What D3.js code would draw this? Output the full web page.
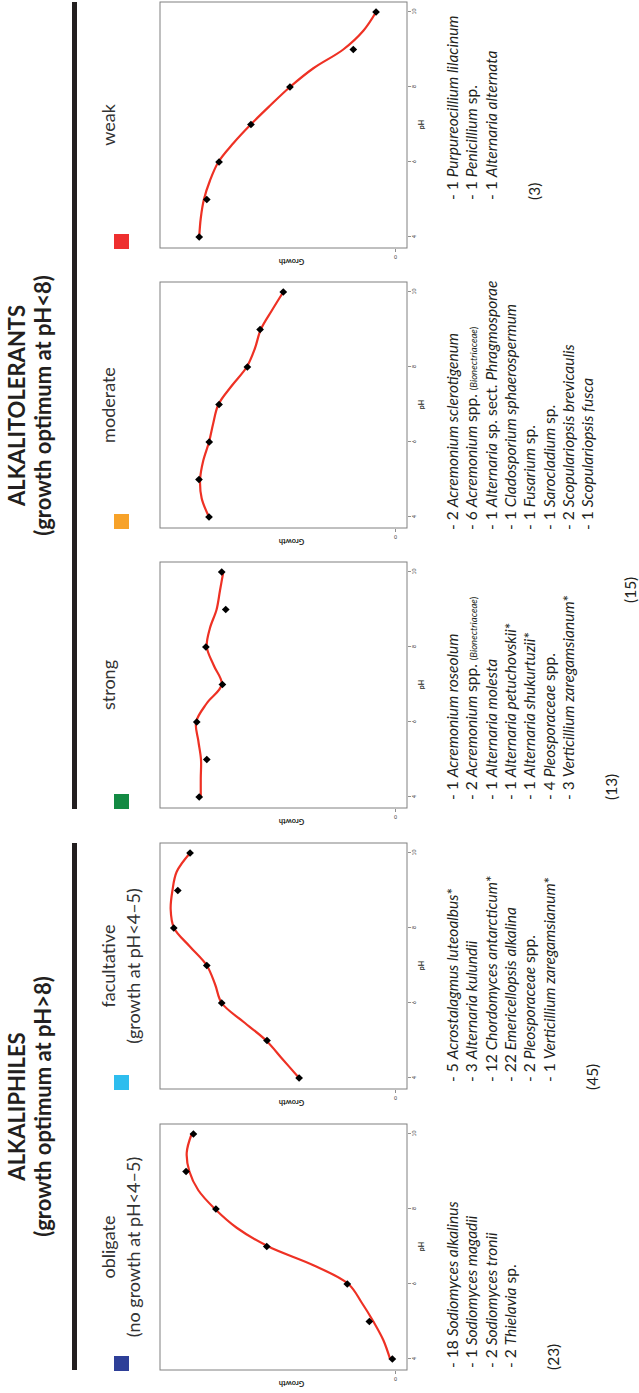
<!DOCTYPE html>
<html><head><meta charset="utf-8">
<script src="https://cdn.jsdelivr.net/npm/d3@7"></script>
<style>
body{margin:0;background:#fff}
svg{display:block}
text{font-family:Lato,"Open Sans",sans-serif;fill:#231f20}
</style>
</head><body>
<svg id="c" width="639" height="1393"></svg>
<script>
// ---------- data ----------
const pH = [4, 5, 6, 7, 8, 9, 10];
const fitPH = [4, 4.5, 5, 5.5, 6, 6.5, 7, 7.5, 8, 8.5, 9, 9.5, 10];
const pHTicks = [4, 6, 8, 10];
const growthTicks = [0];

const categories = ["obligate", "facultative", "strong", "moderate", "weak"];
const categoryNotes = ["(no growth at pH<4–5)", "(growth at pH<4–5)", "", "", ""];
const categoryColors = ["#2e3f98", "#2ebdee", "#138a43", "#f7a229", "#ee2f2f"];

const groups = ["ALKALIPHILES", "ALKALITOLERANTS"];
const groupNotes = ["(growth optimum at pH>8)", "(growth optimum at pH<8)"];

// measured growth (relative units)
const obligateGrowth    = [1.2, 11.5, 21.4, 57.5, 80.3, 93.7, 90.4];
const facultativeGrowth = [43.0, 57.4, 77.7, 84.4, 99.2, 97.4, 91.9];
const strongGrowth      = [87.8, 84.4, 88.9, 77.4, 84.8, 75.9, 77.7];
const moderateGrowth    = [83.4, 87.9, 83.3, 78.9, 66.2, 60.5, 50.1];
const weakGrowth        = [87.8, 84.4, 78.9, 64.6, 47.1, 18.7, 8.5];

// smoothed curve at half pH steps
const obligateFit    = [2.2, 5.2, 9.7, 14.9, 20.9, 36.6, 56.8, 71.0, 80.7, 88.2, 92.2, 93.4, 91.2];
const facultativeFit = [43.0, 50.4, 57.8, 68.0, 77.7, 80.7, 84.4, 91.9, 99.1, 100.6, 99.8, 97.9, 91.9];
const strongFit      = [87.1, 87.1, 87.0, 88.2, 89.2, 84.4, 77.7, 81.2, 84.4, 83.0, 80.0, 78.5, 77.0];
const moderateFit    = [83.4, 86.7, 87.4, 86.0, 83.4, 81.5, 79.2, 73.2, 66.5, 62.8, 60.2, 55.3, 50.1];
const weakFit        = [87.8, 87.1, 85.7, 83.0, 79.2, 72.5, 64.7, 56.1, 47.1, 36.6, 23.2, 14.2, 8.5];

// species lists: _italic_  {small}
const obligateSpecies = ["- 18 _Sodiomyces alkalinus_", "- 1 _Sodiomyces magadii_", "- 2 _Sodiomyces tronii_", "- 2 _Thielavia_ sp."];
const facultativeSpecies = ["- 5 _Acrostalagmus luteoalbus_*", "- 3 _Alternaria kulundii_", "- 12 _Chordomyces antarcticum_*", "- 22 _Emericellopsis alkalina_", "- 2 _Pleosporaceae_ spp.", "- 1 _Verticillium zaregamsianum_*"];
const strongSpecies = ["- 1 _Acremonium roseolum_", "- 2 _Acremonium_ spp. {(Bionectriaceae)}", "- 1 _Alternaria molesta_", "- 1 _Alternaria petuchovskii_*", "- 1 _Alternaria shukurtuzii_*", "- 4 _Pleosporaceae_ spp.", "- 3 _Verticillium zaregamsianum_*"];
const moderateSpecies = ["- 2 _Acremonium sclerotigenum_", "- 6 _Acremonium_ spp. {(Bionectriaceae)}", "- 1 _Alternaria_ sp. sect. _Phragmosporae_", "- 1 _Cladosporium sphaerospermum_", "- 1 _Fusarium_ sp.", "- 1 _Sarocladium_ sp.", "- 2 _Scopulariopsis brevicaulis_", "- 1 _Scopulariopsis fusca_"];
const weakSpecies = ["- 1 _Purpureocillium lilacinum_", "- 1 _Penicillium_ sp.", "- 1 _Alternaria alternata_"];
const counts = ["(23)", "(45)", "(13)", "(15)", "(3)"];

const growthSeries = [obligateGrowth, facultativeGrowth, strongGrowth, moderateGrowth, weakGrowth];
const fitSeries = [obligateFit, facultativeFit, strongFit, moderateFit, weakFit];
const speciesLists = [obligateSpecies, facultativeSpecies, strongSpecies, moderateSpecies, weakSpecies];

// ---------- layout (landscape figure, rotated onto the page) ----------
const FW = 1393;
const L = {
  panelX: [23, 304, 585, 865, 1145], boxW: 246, boxH: 247, boxTop: 160,
  listX: [25, 311, 593, 863, 1193], countX: [23, 303, 593, 790, 1193],
  groupSpan: [[23, 550], [584, 1391]]
};

const svg = d3.select("#c");
const root = svg.append("g").attr("transform", `translate(0,${FW}) rotate(-90)`);

// group headers and bars
groups.forEach((gname, i) => {
  const [a, b] = L.groupSpan[i];
  const cx = (a + b) / 2;
  root.append("text").attr("x", cx).attr("y", 25).attr("text-anchor", "middle")
    .style("font-weight", 700).style("font-size", "22px").text(gname);
  root.append("text").attr("x", cx).attr("y", 51).attr("text-anchor", "middle")
    .style("font-weight", 700).style("font-size", "22px").text(groupNotes[i]);
  root.append("rect").attr("x", a).attr("y", 72).attr("width", b - a).attr("height", 5).attr("fill", "#231f20");
});

const x = d3.scaleLinear().domain([4, 10]).range([11, 236]);
const y = d3.scaleLinear().domain([0, 100]).range([235, 12]);
const line = d3.line().x((d, i) => x(fitPH[i])).y(d => y(d)).curve(d3.curveCatmullRom.alpha(0.5));

categories.forEach((cat, i) => {
  const px = L.panelX[i];
  const cx = px + L.boxW / 2;
  // legend square + label
  root.append("rect").attr("x", px - 1).attr("y", 114).attr("width", 15).attr("height", 15).attr("fill", categoryColors[i]);
  root.append("text").attr("x", cx).attr("y", 115).attr("text-anchor", "middle")
    .style("font-size", "18px").style("fill", "#333").text(cat);
  if (categoryNotes[i]) {
    root.append("text").attr("x", cx).attr("y", 140).attr("text-anchor", "middle")
      .style("font-size", "18px").style("fill", "#333").text(categoryNotes[i]);
  }

  const g = root.append("g").attr("transform", `translate(${px},${L.boxTop})`);
  g.append("rect").attr("width", L.boxW).attr("height", L.boxH)
    .attr("fill", "none").attr("stroke", "#808080").attr("stroke-width", 1);

  // x axis
  const xa = g.append("g").attr("transform", `translate(0,${L.boxH + 1})`)
    .call(d3.axisBottom(x).tickValues(pHTicks).tickSize(3).tickFormat(d3.format("d")));
  xa.select(".domain").remove();
  xa.selectAll("line").attr("stroke", "#444").attr("stroke-width", 0.6);
  xa.selectAll("text").style("font-size", "5px").attr("dy", "0.5em").attr("y", 5).style("fill", "#333");
  g.append("text").attr("x", (x(4) + x(10)) / 2).attr("y", L.boxH + 17).attr("text-anchor", "middle")
    .style("font-size", "7px").style("font-weight", 700).text("pH");

  // y axis (tick at 0 only)
  const ya = g.append("g").attr("transform", "translate(-1,0)")
    .call(d3.axisLeft(y).tickValues(growthTicks).tickSize(3).tickFormat(""));
  ya.select(".domain").remove();
  ya.selectAll("line").attr("stroke", "#444").attr("stroke-width", 0.6);
  ya.selectAll("g.tick").append("text")
    .attr("transform", "translate(-6,0) rotate(-90)")
    .attr("text-anchor", "middle").style("font-size", "5px").style("fill", "#333")
    .text(d => d3.format("d")(d));
  g.append("text").attr("transform", `translate(-11,${L.boxH / 2 + 8}) rotate(-90)`)
    .attr("text-anchor", "middle").style("font-size", "7.5px").style("font-weight", 700).text("Growth");

  // fitted curve
  g.append("path").datum(fitSeries[i]).attr("d", line)
    .attr("fill", "none").attr("stroke", "#ee3124").attr("stroke-width", 2.2);

  // points
  g.selectAll("path.pt").data(growthSeries[i]).enter().append("path").attr("class", "pt")
    .attr("d", d3.symbol().type(d3.symbolSquare).size(30))
    .attr("transform", (d, j) => `translate(${x(pH[j])},${y(d)}) rotate(45)`)
    .attr("fill", "#000");

  // species list
  const lst = speciesLists[i];
  lst.forEach((s, k) => {
    const t = root.append("text").attr("x", L.listX[i]).attr("y", 458 + k * 19.3)
      .style("font-size", "15.5px");
    s.split(/(_[^_]+_|\{[^}]+\})/).filter(p => p.length).forEach(p => {
      if (p[0] === "_") {
        t.append("tspan").style("font-style", "italic").text(p.slice(1, -1));
      } else if (p[0] === "{") {
        const inner = p.slice(1, -1);
        t.append("tspan").style("font-size", "9.5px").text("(");
        t.append("tspan").style("font-size", "9.5px").style("font-style", "italic").text(inner.slice(1, -1));
        t.append("tspan").style("font-size", "9.5px").text(")");
      } else {
        t.append("tspan").text(p);
      }
    });
  });
  root.append("text").attr("x", L.countX[i]).attr("y", 458 + (lst.length - 1) * 19.3 + 43)
    .style("font-size", "15.5px").text(counts[i]);
});
</script>
</body></html>
